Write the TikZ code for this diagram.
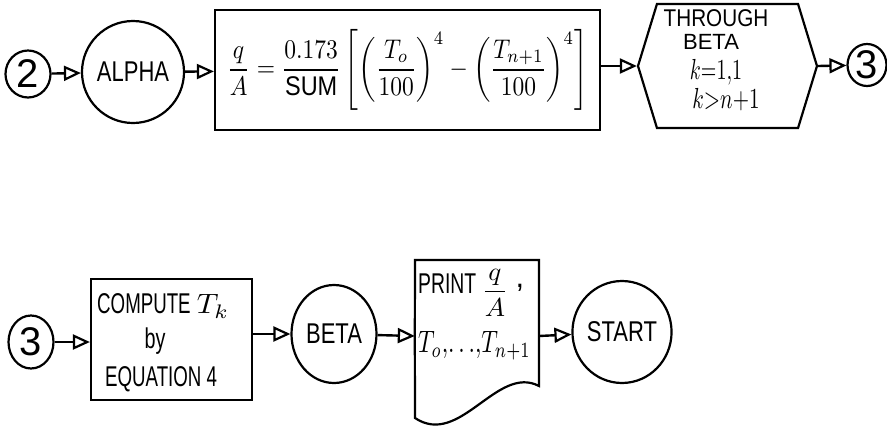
\documentclass[tikz,border=0pt]{standalone}
\usepackage{graphicx}
\usepackage{fontspec}
\setmainfont{Liberation Sans}
\usetikzlibrary{arrows.meta,shapes.geometric,shapes.symbols}
\newcommand{\hand}[3]{\scalebox{#1}[#2]{#3}}
\newcommand{\mth}[3]{\scalebox{#1}[#2]{\normalsize$#3$}}
\tikzset{
  ln/.style={line width=2.2pt},
  conn/.style={line width=2.4pt,-{Triangle[open,length=17pt,width=15pt,line width=2.2pt]}},
  hw/.style={font=\fontsize{22}{26}\selectfont},
  big/.style={font=\fontsize{40}{44}\selectfont},
  conncircle/.style={ln,draw,ellipse,inner sep=0pt},
  termellipse/.style={ln,draw,ellipse,inner sep=0pt,hw},
  procbox/.style={ln,draw,rectangle,inner sep=0pt},
  plain/.style={inner sep=0pt,hw}
}
\begin{document}
\begin{tikzpicture}[x=1pt,y=-1pt]
\useasboundingbox (0,0) rectangle (887,426);
% ---- top row
\node[conncircle,big,minimum width=45pt,minimum height=47pt] (c2) at (28,74) {2};
\node[termellipse,minimum width=86pt,minimum height=102pt] (alpha) at (133,72) {\hand{1}{1.3}{ALPHA}};
\node[procbox,minimum width=385pt,minimum height=120pt,font=\normalsize] (eq) at (407.5,70)
  {\scalebox{2.35}[2.7]{$\displaystyle \frac{q}{A}=\frac{0.173}{\mbox{SUM}}\left[\left(\frac{T_o}{100}\right)^{4}-\left(\frac{T_{n+1}}{100}\right)^{4}\right]$}};
\node[ln,draw,signal,signal to=east and west,signal pointer angle=146,minimum width=179pt,minimum height=124pt,inner sep=0pt] (loop) at (727.5,66) {};
\node[plain] (t1) at (716,18) {\hand{0.94}{1.1}{THROUGH}};
\node[plain] (t2) at (711,42) {BETA};
\node[plain] (t3) at (716,72) {\mth{2}{2.9}{k{=}1{,}1}};
\node[plain] (t4) at (726,100) {\mth{2.1}{2.9}{k{>}n{+}1}};
\node[conncircle,big,minimum width=39pt,minimum height=42pt] (c3a) at (867,65) {3};
\draw[conn] (c2) -- (alpha);
\draw[conn] (alpha) -- (eq);
\draw[conn] (eq.east |- loop.west) -- (loop.west);
\draw[conn] (loop.east) -- (c3a);
% ---- bottom row
\node[conncircle,big,minimum width=45pt,minimum height=53pt] (c3b) at (31,342) {3};
\node[procbox,minimum width=161pt,minimum height=121pt] (comp) at (171.5,339.5) {};
\node[plain,anchor=west] (u1) at (97,306) {\hand{0.85}{1.3}{COMPUTE} \mth{3}{2.8}{T_k}};
\node[plain] (u2) at (155,341) {\hand{0.9}{1.3}{by}};
\node[plain,anchor=west] (u3) at (105,379) {\hand{0.85}{1.3}{EQUATION 4}};
\node[termellipse,minimum width=85pt,minimum height=98pt] (beta) at (334,334) {\hand{1}{1.3}{BETA}};
\node[minimum width=124pt,minimum height=152pt,inner sep=0pt] (doc) at (477,336) {};
\draw[ln] (doc.west) -- (415,260) -- (539,260) -- (539,386)
   .. controls (497,364) and (460,448) .. (415,418) -- cycle;
\node[plain,anchor=west] (p1) at (418,284) {\hand{0.88}{1.3}{PRINT}};
\node[plain] (p1q) at (495,293) {\mth{2.7}{2.6}{\displaystyle\frac{q}{A}}};
\node[plain] (p1c) at (520,288) {\hand{1.4}{1.4}{,}};
\node[plain,anchor=west] (p2) at (418,346) {\mth{2.3}{3.1}{T_o{,}{\ldots}{,}T_{n+1}}};
\node[termellipse,minimum width=84pt,minimum height=102pt] (start) at (622,332) {\hand{1}{1.3}{START}};
\draw[conn] (c3b) -- (comp.west |- c3b.east);
\draw[conn] (comp.east |- beta.west) -- (beta);
\draw[conn] (beta) -- (doc.west);
\draw[conn] (doc.east) -- (start);
\end{tikzpicture}
\end{document}
